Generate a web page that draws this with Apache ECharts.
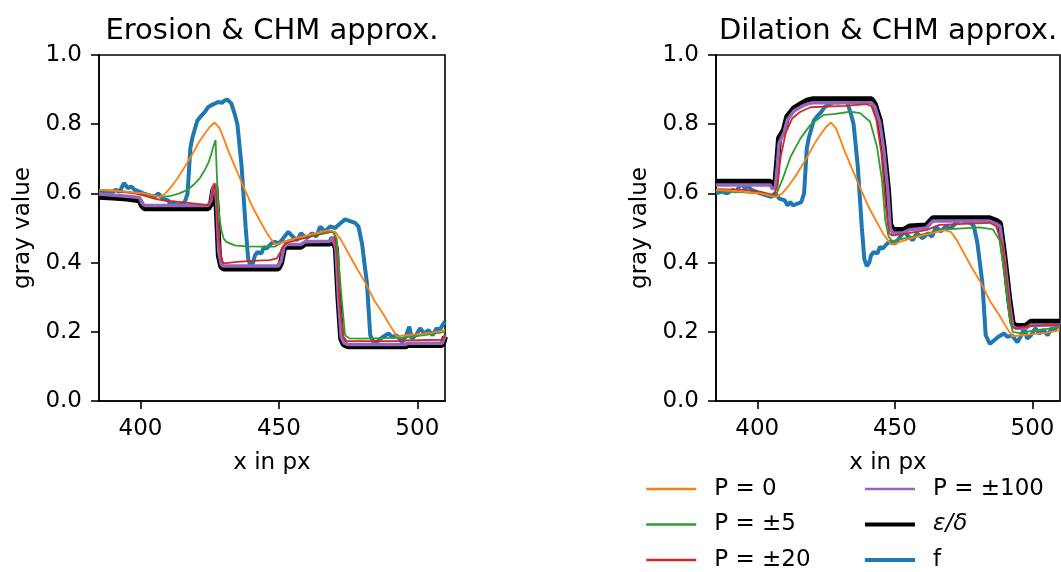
<!DOCTYPE html>
<html>
<head>
<meta charset="utf-8">
<script src="https://cdn.jsdelivr.net/npm/echarts@6/dist/echarts.min.js"></script>
<style>
  html, body { margin: 0; padding: 0; background: #fff; }
  #chart { width: 1061px; height: 572px; }
</style>
</head>
<body>
<div id="chart"></div>
<script>
// measured signal f (shared by both panels)
var fLine = [[385,0.60],[387,0.605],[389,0.60],[391,0.61],[392.5,0.605],[394,0.63],[395.5,0.615],[396.6,0.62],[398,0.61],[399.5,0.605],[401,0.60],[403,0.595],[405,0.59],[406.5,0.60],[408,0.585],[410,0.58],[411,0.565],[412,0.575],[413,0.565],[414.5,0.57],[416,0.575],[417,0.60],[418,0.73],[418.7,0.76],[420.5,0.81],[422,0.825],[423.2,0.835],[424.5,0.85],[425.6,0.855],[427,0.86],[428,0.864],[429.5,0.862],[430.4,0.869],[431.4,0.871],[432.8,0.86],[434,0.83],[435,0.80],[436.5,0.68],[438,0.50],[438.9,0.41],[439.8,0.39],[440.7,0.40],[441.3,0.42],[442.2,0.43],[443.7,0.427],[444.6,0.446],[445.5,0.44],[447.3,0.456],[448.5,0.46],[450,0.455],[451.5,0.47],[453.4,0.489],[455,0.475],[456.5,0.465],[458,0.485],[460,0.47],[462,0.485],[463.5,0.475],[464.9,0.504],[466.7,0.49],[468.5,0.505],[470.3,0.50],[472.1,0.513],[473.9,0.525],[475.7,0.52],[477.5,0.515],[478.7,0.505],[480,0.456],[481.8,0.34],[483,0.19],[484.5,0.165],[486,0.175],[487.5,0.185],[489.6,0.195],[491,0.185],[492.5,0.19],[494.5,0.17],[496,0.19],[497.1,0.215],[498,0.18],[499.5,0.19],[501,0.21],[502.5,0.195],[504,0.205],[505.5,0.19],[507,0.21],[508,0.205],[510,0.23]];

// P = 0 (same in both panels)
var p0Line = [[385,0.61],[392,0.607],[397,0.603],[401.4,0.60],[404,0.595],[406.9,0.59],[409,0.60],[411.1,0.619],[413.5,0.645],[416,0.677],[418.5,0.71],[420.8,0.744],[423,0.77],[425,0.792],[426.8,0.805],[428.6,0.788],[430,0.76],[431.6,0.725],[434.5,0.67],[437.7,0.61],[440.5,0.56],[443.7,0.513],[446,0.48],[448.6,0.453],[450.5,0.456],[455.8,0.47],[462,0.482],[467.9,0.494],[470.3,0.489],[472.5,0.465],[475.1,0.427],[478,0.385],[481,0.345],[484.5,0.29],[487.8,0.25],[490,0.22],[492.6,0.187],[496,0.19],[500,0.193],[505,0.197],[510,0.205]];

// erosion panel
var ero5 = [[385,0.61],[392,0.607],[397,0.603],[401.4,0.60],[404,0.594],[407.5,0.59],[411,0.593],[414,0.60],[417,0.61],[419.6,0.628],[421.5,0.645],[423.2,0.667],[424.5,0.688],[425.6,0.715],[426.5,0.74],[427.1,0.754],[427.6,0.65],[428.2,0.55],[429.2,0.494],[430,0.47],[431,0.46],[434,0.45],[438,0.447],[443.7,0.446],[448.6,0.446],[450.5,0.458],[455.8,0.47],[462,0.48],[467.9,0.489],[469.5,0.489],[470.9,0.47],[471.8,0.38],[472.7,0.292],[473.9,0.19],[475.5,0.181],[480,0.18],[494.9,0.183],[502,0.19],[510,0.2]];
var ero20 = [[385,0.61],[392,0.605],[398,0.60],[402,0.592],[405,0.585],[408,0.58],[412,0.577],[418,0.572],[424.4,0.566],[425.6,0.585],[426.6,0.628],[427.4,0.6],[428.2,0.48],[429.2,0.41],[430,0.398],[435,0.402],[440,0.405],[446.7,0.407],[449.2,0.412],[450.5,0.43],[452.2,0.456],[458.8,0.47],[464,0.48],[469.1,0.489],[470,0.485],[471,0.42],[472,0.28],[473.3,0.185],[474.5,0.173],[495,0.173],[496,0.175],[509,0.177],[510,0.19]];
var ero100 = [[385,0.598],[395,0.592],[399.6,0.588],[400.5,0.572],[401.5,0.565],[424.4,0.565],[425.5,0.58],[426.3,0.62],[427,0.628],[427.6,0.56],[428.3,0.43],[429.2,0.395],[430,0.39],[449.8,0.39],[450.8,0.405],[451.8,0.445],[452.8,0.452],[458,0.452],[459.4,0.46],[468.5,0.462],[469.3,0.475],[470,0.478],[470.6,0.44],[471.5,0.30],[472.5,0.185],[473.5,0.168],[475,0.163],[495.7,0.163],[496.5,0.167],[509,0.167],[509.6,0.18],[510,0.19]];
var eroEps = [[385,0.59],[390,0.588],[395,0.585],[399.6,0.58],[400.5,0.565],[401.5,0.557],[410,0.557],[424.4,0.557],[425.5,0.57],[426.3,0.61],[427,0.62],[427.6,0.55],[428.3,0.42],[429.2,0.388],[430,0.383],[449.8,0.383],[450.8,0.40],[451.8,0.44],[452.8,0.446],[458,0.446],[459.4,0.455],[468.5,0.455],[469.3,0.47],[470,0.475],[470.6,0.44],[471.5,0.30],[472.5,0.18],[473.5,0.163],[475,0.158],[495.7,0.158],[496.5,0.162],[509,0.162],[509.6,0.175],[510,0.186]];

// dilation panel
var dil5 = [[385,0.607],[395,0.603],[401.1,0.60],[406.5,0.59],[409.1,0.639],[412.1,0.706],[415.7,0.759],[419.3,0.798],[424.1,0.827],[427.7,0.829],[433.8,0.836],[437.4,0.832],[441,0.807],[443.5,0.735],[445.3,0.639],[446.5,0.523],[447.7,0.475],[449,0.462],[456.5,0.475],[462,0.485],[468.6,0.496],[480.8,0.502],[485.6,0.496],[488,0.465],[489.8,0.369],[491.6,0.244],[492.8,0.2],[495.2,0.196],[501.3,0.205],[510,0.213]];
var dil20 = [[385,0.612],[395,0.61],[401,0.605],[406,0.595],[407.3,0.62],[408.5,0.706],[410.3,0.774],[412.7,0.817],[415.7,0.836],[419.3,0.849],[425,0.851],[432,0.853],[439.7,0.858],[441.5,0.852],[443.3,0.812],[445.1,0.716],[446.7,0.562],[447.9,0.485],[449,0.478],[455,0.485],[461.4,0.494],[466.2,0.509],[475,0.512],[484.4,0.515],[486.8,0.505],[489.2,0.446],[491,0.321],[492.6,0.215],[494,0.21],[500,0.217],[510,0.22]];
var dil100 = [[385,0.624],[395,0.624],[404.7,0.624],[405.3,0.615],[406.5,0.613],[407.3,0.68],[407.9,0.745],[409.7,0.775],[410.9,0.812],[413.3,0.838],[416.3,0.852],[418.1,0.858],[420,0.862],[441.5,0.862],[442.7,0.85],[444.5,0.805],[445.9,0.73],[447.5,0.60],[448.3,0.50],[449.3,0.485],[453,0.486],[455.3,0.495],[461.4,0.5],[463.8,0.52],[484.4,0.52],[486.8,0.512],[488.2,0.505],[489.8,0.41],[491.6,0.285],[492.8,0.216],[494,0.21],[497.6,0.21],[499.4,0.22],[510,0.22]];
var dilDelta = [[385,0.634],[395,0.634],[404.7,0.634],[405.3,0.624],[406.5,0.622],[407.3,0.697],[407.9,0.759],[409.7,0.783],[410.9,0.822],[413.3,0.846],[416.3,0.86],[418.1,0.868],[420,0.872],[441.5,0.872],[442.7,0.858],[444.5,0.812],[445.9,0.735],[447.5,0.61],[448.3,0.51],[449.3,0.494],[453,0.494],[455.3,0.504],[461.4,0.507],[463.8,0.528],[484.4,0.528],[486.8,0.521],[488.2,0.513],[489.8,0.417],[491.6,0.292],[492.8,0.224],[494,0.217],[497.6,0.217],[499.4,0.229],[510,0.229]];

var xTicks = [400, 450, 500];
var titles = ['Erosion & CHM approx.', 'Dilation & CHM approx.'];
var names = ['P = 0', 'P = ±5', 'P = ±20', 'P = ±100', 'ε/δ', 'f'];

var font = 'DejaVu Sans';
var colors = {
	'P = 0': '#ff7f0e',
	'P = ±5': '#2ca02c',
	'P = ±20': '#d62728',
	'P = ±100': '#9467bd',
	'ε/δ': '#000000',
	'f': '#1f77b4'
};
var widths = { 'P = 0': 1.8, 'P = ±5': 1.8, 'P = ±20': 1.8, 'P = ±100': 3.5, 'ε/δ': 6, 'f': 4 };

function xAxis(i) {
	return {
		type: 'value', gridIndex: i, min: 385, max: 510,
		name: 'x in px', nameLocation: 'middle', nameGap: 51,
		nameTextStyle: { color: '#000', fontSize: 23, fontFamily: font },
		axisLine: { lineStyle: { color: '#000', width: 1.6 } },
		axisTick: { length: 8, lineStyle: { color: '#000', width: 1.6 }, customValues: xTicks },
		axisLabel: { color: '#000', fontSize: 23, fontFamily: font, margin: 17, customValues: xTicks },
		splitLine: { show: false }
	};
}
function yAxis(i) {
	return {
		type: 'value', gridIndex: i, min: 0, max: 1, interval: 0.2,
		name: 'gray value', nameLocation: 'middle', nameRotate: 90, nameGap: 64,
		nameTextStyle: { color: '#000', fontSize: 23, fontFamily: font },
		axisLine: { show: true, lineStyle: { color: '#000', width: 1.6 } },
		axisTick: { show: true, length: 8, lineStyle: { color: '#000', width: 1.6 } },
		axisLabel: { color: '#000', fontSize: 23, fontFamily: font, margin: 17,
			formatter: function (v) { return v.toFixed(1); } },
		splitLine: { show: false }
	};
}
function line(name, data, idx, z) {
	return {
		name: name, type: 'line', data: data, xAxisIndex: idx, yAxisIndex: idx,
		showSymbol: false, symbol: 'none', animation: false, z: z,
		lineStyle: { color: colors[name], width: widths[name] },
		itemStyle: { color: colors[name] }
	};
}
function legendItem(name) {
	var item = { name: name, lineStyle: { width: (name === 'ε/δ' || name === 'f') ? 4 : 2.5 } };
	if (name === 'ε/δ') item.textStyle = { fontStyle: 'italic' };
	return item;
}
function legend(left, items) {
	return {
		orient: 'vertical', left: left, top: 477, padding: 0,
		itemWidth: 50, itemHeight: 14, itemGap: 11.5,
		lineStyle: { width: 'inherit' },
		// hide the marker dot, keep only the line
		itemStyle: { color: 'rgba(0,0,0,0)', borderColor: 'rgba(0,0,0,0)', borderWidth: 0 },
		textStyle: { color: '#000', fontSize: 23, fontFamily: font, lineHeight: 24, padding: [0, 0, 0, 13] },
		data: items.map(legendItem)
	};
}

var chart = echarts.init(document.getElementById('chart'));
var series = [];
[[eroEps, ero100, ero20, ero5], [dilDelta, dil100, dil20, dil5]].forEach(function (set, i) {
	series.push(line('f', fLine, i, 1));
	series.push(line('ε/δ', set[0], i, 2));
	series.push(line('P = ±100', set[1], i, 3));
	series.push(line('P = ±20', set[2], i, 4));
	series.push(line('P = ±5', set[3], i, 5));
	series.push(line('P = 0', p0Line, i, 6));
});

chart.setOption({
	animation: false,
	textStyle: { fontFamily: font },
	title: [
		{ text: titles[0], left: 272, top: 17, textAlign: 'center', padding: 0,
			textStyle: { color: '#000', fontSize: 29, fontWeight: 'normal', fontFamily: font } },
		{ text: titles[1], left: 888, top: 17, textAlign: 'center', padding: 0,
			textStyle: { color: '#000', fontSize: 29, fontWeight: 'normal', fontFamily: font } }
	],
	legend: [
		legend(645, names.slice(0, 3)),
		legend(863, names.slice(3))
	],
	grid: [
		{ left: 99, top: 55, width: 346, height: 346, show: true, borderColor: '#000', borderWidth: 1.6 },
		{ left: 716, top: 55, width: 344, height: 346, show: true, borderColor: '#000', borderWidth: 1.6 }
	],
	xAxis: [xAxis(0), xAxis(1)],
	yAxis: [yAxis(0), yAxis(1)],
	series: series
});
</script>
</body>
</html>
